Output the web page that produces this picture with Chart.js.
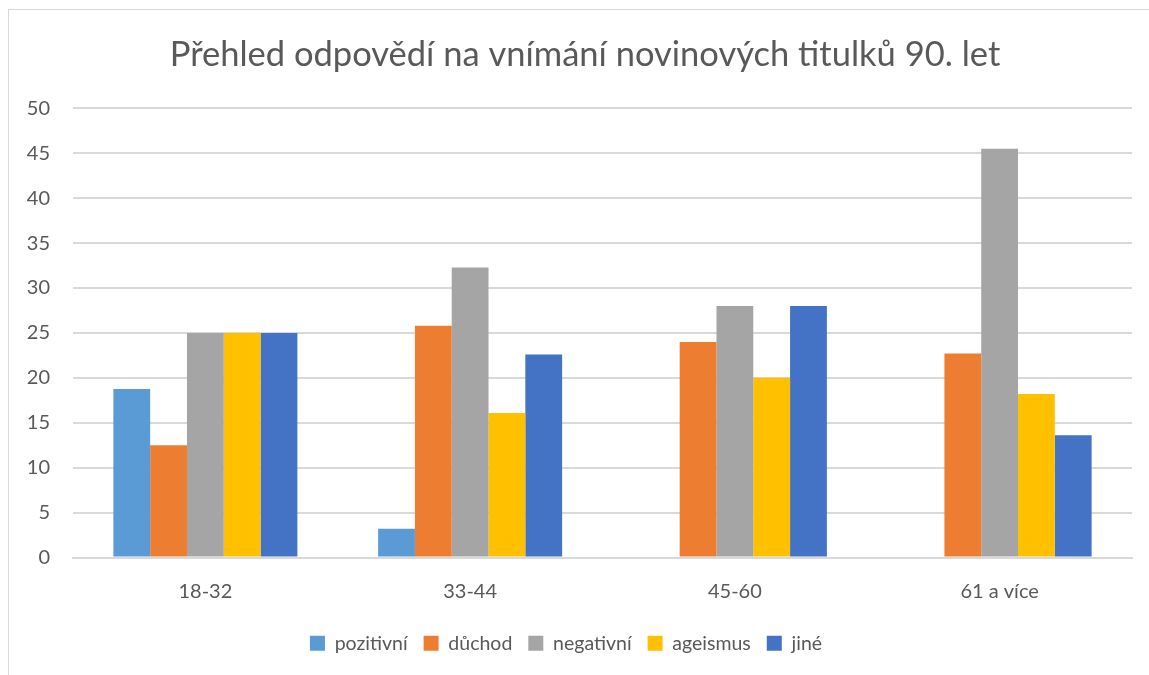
<!DOCTYPE html>
<html>
<head>
<meta charset="utf-8">
<script src="https://cdn.jsdelivr.net/npm/chart.js@4/dist/chart.umd.min.js"></script>
<style>
  html, body { margin:0; padding:0; background:#fff; }
  #frame { position:absolute; left:8px; top:9px; width:1160px; height:700px; border:1px solid #D9D9D9; }
  #wrap { position:absolute; left:0; top:0; width:1149px; height:675px; }
</style>
</head>
<body>
<div id="frame"></div>
<div id="wrap"><canvas id="c" width="1149" height="675"></canvas></div>
<script>
// --- data ---
const kategorie = ['18-32', '33-44', '45-60', '61 a více'];
const pozitivni = [18.75, 3.2, 0, 0];
const duchod    = [12.5, 25.8, 24, 22.7];
const negativni = [25, 32.3, 28, 45.5];
const ageismus  = [25, 16.1, 20, 18.2];
const jine      = [25, 22.6, 28, 13.6];
const yTicks    = [0, 5, 10, 15, 20, 25, 30, 35, 40, 45, 50];

const textColor = '#595959';
const gridColor = '#D9D9D9';
const font = 'Lato, "Open Sans", sans-serif';

const ds = (label, data, color) => ({ label, data, backgroundColor: color, borderWidth: 0 });

// posune titulek doprava (v originále je centrovaný na celý rámeček)
const shiftTitle = {
  id: 'shiftTitle',
  afterLayout(chart) {
    const t = chart.titleBlock;
    if (t) { t.left += 19; t.right += 19; }
  }
};

new Chart(document.getElementById('c'), {
  type: 'bar',
  data: {
    labels: kategorie,
    datasets: [
      ds('pozitivní', pozitivni, '#5B9BD5'),
      ds('důchod', duchod, '#ED7D31'),
      ds('negativní', negativni, '#A5A5A5'),
      ds('ageismus', ageismus, '#FFC000'),
      ds('jiné', jine, '#4472C4')
    ]
  },
  plugins: [shiftTitle],
  options: {
    responsive: false,
    animation: false,
    layout: { padding: { left: 0, right: 17, top: 0, bottom: 12 } },
    datasets: { bar: { categoryPercentage: 0.695, barPercentage: 1.0 } },
    plugins: {
      title: {
        display: true,
        text: 'Přehled odpovědí na vnímání novinových titulků 90. let',
        color: textColor,
        font: { family: font, size: 34.5, weight: 'normal' },
        padding: { top: 34, bottom: 33 }
      },
      legend: {
        position: 'bottom',
        labels: {
          color: textColor,
          font: { family: font, size: 19.5 },
          boxWidth: 15, boxHeight: 15, padding: 16
        }
      },
      tooltip: { enabled: false }
    },
    scales: {
      x: {
        grid: { display: false },
        border: { display: true, color: gridColor, width: 2 },
        ticks: { color: textColor, font: { family: font, size: 20 }, padding: 14 }
      },
      y: {
        min: 0, max: 50,
        afterBuildTicks: s => { s.ticks = yTicks.map(v => ({ value: v })); },
        afterFit: s => { s.width = 73; },
        grid: { color: gridColor, lineWidth: 2, drawTicks: false },
        border: { display: false },
        ticks: { color: textColor, font: { family: font, size: 20 }, padding: 23 }
      }
    }
  }
});
</script>
</body>
</html>
